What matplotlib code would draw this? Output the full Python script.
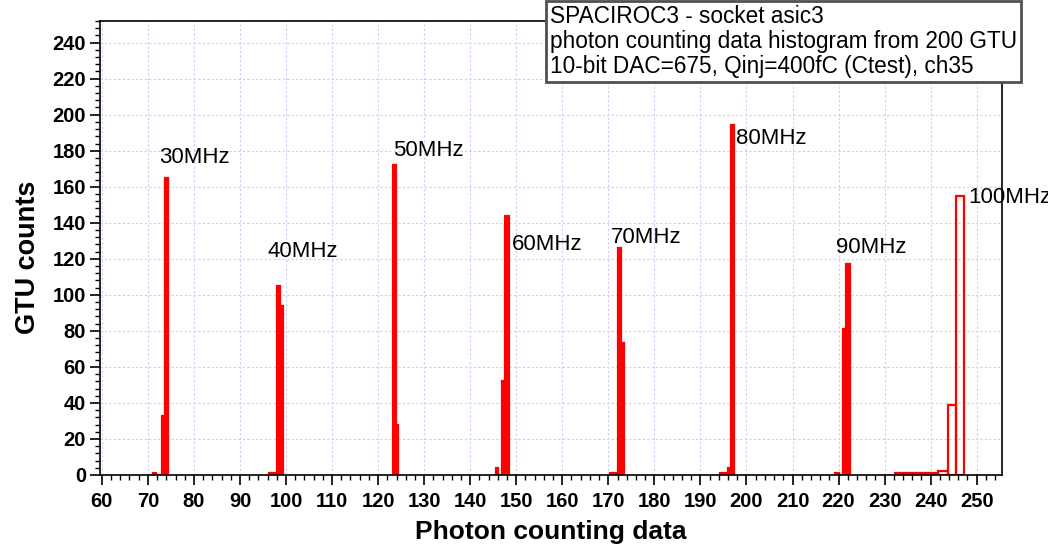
import matplotlib
matplotlib.use('Agg')
import matplotlib.pyplot as plt
from matplotlib.ticker import MultipleLocator

plt.rcParams['font.family'] = ['Liberation Sans', 'DejaVu Sans']

# histogram of photon counting data, one group of bins per injection rate
freq_labels = ['30MHz', '40MHz', '50MHz', '60MHz', '70MHz', '80MHz', '90MHz', '100MHz']

bin_edges = [
    [71.2, 71.8, 73.15, 73.65, 74.4],
    [96.3, 98.0, 98.75, 99.3],
    [123.3, 123.8, 124.3],
    [145.5, 146.0, 147.0, 147.66, 148.5],
    [170.4, 172.04, 172.78, 173.45],
    [194.3, 195.9, 196.65, 197.4],
    [219.3, 220.0, 221.0, 221.7, 222.5],
    [232.3, 241.7, 243.7, 245.5, 247.3],
]

bin_counts = [
    [1, 0, 33, 165],
    [1, 105, 94],
    [172, 28],
    [4, 0, 52, 144],
    [1, 126, 73],
    [1, 4, 194],
    [1, 0, 81, 117],
    [1, 2, 39, 155],
]

# where each rate label sits (data coords, text baseline)
label_pos = [(72.4, 173), (95.9, 121), (123.2, 177), (149.0, 125),
             (170.5, 128.5), (197.8, 183.5), (219.5, 123), (248.2, 151)]

info_lines = ['SPACIROC3 - socket asic3',
              'photon counting data histogram from 200 GTU',
              '10-bit DAC=675, Qinj=400fC (Ctest), ch35']

W, H = 1048, 548
fig = plt.figure(figsize=(W / 100, H / 100), dpi=100)
ax = fig.add_axes([100 / W, 1 - 475 / H, 902 / W, 454 / H])

for edges, counts in zip(bin_edges, bin_counts):
    lefts = edges[:-1]
    widths = [b - a for a, b in zip(edges[:-1], edges[1:])]
    # thin bins close up under the outline, so draw them solid
    faces = ['#ff0000' if w < 1.2 else 'none' for w in widths]
    ax.bar(lefts, counts, width=widths, align='edge', color=faces,
           edgecolor='#ff0000', linewidth=1.6)

for name, (lx, ly) in zip(freq_labels, label_pos):
    ax.text(lx, ly, name, fontsize=16, va='baseline', ha='left', clip_on=False)

ax.set_xlim(59.6, 255.5)
ax.set_ylim(0, 252)
ax.xaxis.set_minor_locator(MultipleLocator(2))
ax.yaxis.set_minor_locator(MultipleLocator(4))
ax.set_xticks(range(60, 251, 10))
ax.set_yticks(range(0, 241, 20))

ax.grid(True, which='major', color='#cdcdf6', linestyle=(0, (2, 2)), linewidth=0.8)
ax.set_axisbelow(True)

ax.tick_params(which='major', direction='out', length=7, width=1.2, labelsize=14.5, pad=3)
ax.tick_params(which='minor', direction='out', length=3.5, width=1.0)
ax.tick_params(axis='x', which='major', pad=5)
for lab in ax.get_xticklabels() + ax.get_yticklabels():
    lab.set_fontweight('bold')
for sp in ax.spines.values():
    sp.set_linewidth(1.2)

fig.text(551 / W, 1 - 532 / H, 'Photon counting data', fontsize=19, fontweight='bold',
         ha='center', va='center')
fig.text(28 / W, 1 - 257 / H, 'GTU counts', fontsize=19.5, fontweight='bold',
         rotation=90, ha='center', va='center')

fig.text(550 / W, 1 - 5 / H, '\n'.join(info_lines), fontsize=16.3, ha='left', va='top',
         linespacing=1.12,
         bbox=dict(boxstyle='square,pad=0.18', facecolor='white', edgecolor='#505050',
                   linewidth=2))

fig.savefig('out.png', dpi=100)
